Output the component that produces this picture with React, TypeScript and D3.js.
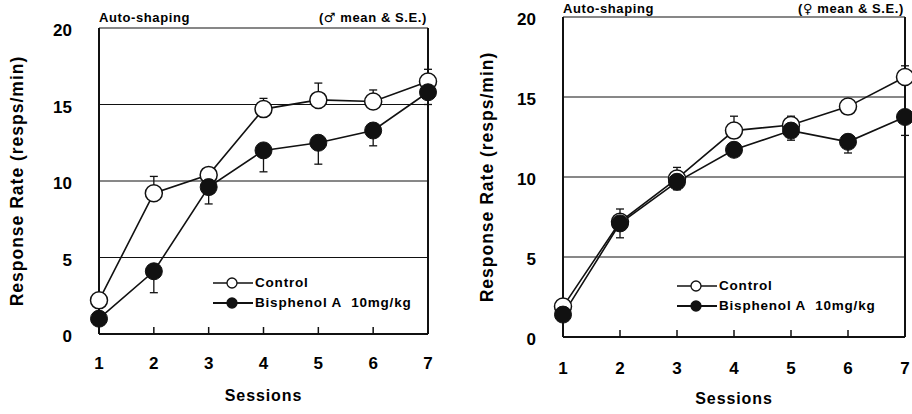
import React from "react";
import * as d3 from "d3";

// sessions 1..7
const sessions = [1, 2, 3, 4, 5, 6, 7];
const yTicks = [0, 5, 10, 15, 20];

// males (left panel)
const maleControl = [2.2, 9.2, 10.4, 14.7, 15.3, 15.2, 16.5];
const maleControlSE = [0.3, 1.1, 0.45, 0.7, 1.1, 0.75, 0.8];
const maleBPA = [1.0, 4.1, 9.6, 12.0, 12.5, 13.3, 15.8];
const maleBPASE = [0.2, 1.4, 1.1, 1.4, 1.4, 1.0, 0.8];

// females (right panel)
const femaleControl = [1.9, 7.2, 9.9, 12.9, 13.25, 14.4, 16.25];
const femaleControlSE = [0.2, 0.8, 0.7, 0.9, 0.55, 0.3, 0.7];
const femaleBPA = [1.4, 7.1, 9.7, 11.7, 12.9, 12.2, 13.75];
const femaleBPASE = [0.2, 0.9, 0.5, 0.3, 0.6, 0.7, 1.15];

const legendLabels = ["Control", "Bisphenol A\u00a0\u00a010mg/kg"];

const FONT = "'Liberation Sans', Arial, sans-serif";

type PanelProps = {
  left: number; right: number; top: number; bottom: number;
  control: number[]; controlSE: number[];
  bpa: number[]; bpaSE: number[];
  sex: string; headerY: number;
  legendX: number; legendY: number;
  yLabelX: number; tickLabelY: number; titleY: number;
};

function Panel(p: PanelProps) {
  const x = d3.scaleLinear().domain([1, 7]).range([p.left, p.right]);
  const y = d3.scaleLinear().domain([0, 20]).range([p.bottom, p.top]);

  const line = d3.line<number>()
    .x((d, i) => x(sessions[i]))
    .y(d => y(d));

  const cap = 4;

  return (
    <g fontFamily={FONT} fontWeight="bold">
      {/* gridlines */}
      {yTicks.filter(t => t > 0 && t < 20).map(t => (
        <line key={t} x1={p.left} x2={p.right} y1={y(t)} y2={y(t)} stroke="#111" strokeWidth={1} />
      ))}
      {/* frame */}
      <line x1={p.left} x2={p.right} y1={p.top} y2={p.top} stroke="#111" strokeWidth={1.2} />
      <line x1={p.right} x2={p.right} y1={p.top} y2={p.bottom} stroke="#111" strokeWidth={2} />
      <line x1={p.left} x2={p.left} y1={p.top} y2={p.bottom} stroke="#111" strokeWidth={2} />
      <line x1={p.left} x2={p.right} y1={p.bottom} y2={p.bottom} stroke="#111" strokeWidth={2} />
      {/* x ticks (inside) */}
      {sessions.map(s => (
        <line key={s} x1={x(s)} x2={x(s)} y1={p.bottom} y2={p.bottom - 7} stroke="#111" strokeWidth={1.5} />
      ))}
      {/* tick labels */}
      {sessions.map(s => (
        <text key={s} x={x(s)} y={p.tickLabelY} textAnchor="middle" dominantBaseline="middle" fontSize={17}>{s}</text>
      ))}
      {yTicks.map(t => (
        <text key={t} x={p.left - 27} y={y(t) + 4} textAnchor="end" dominantBaseline="middle" fontSize={17}>{t}</text>
      ))}
      <text x={(p.left + p.right) / 2} y={p.titleY} textAnchor="middle" dominantBaseline="middle" fontSize={16} letterSpacing={0.9}>Sessions</text>
      <text transform={`translate(${p.yLabelX},${(p.top + p.bottom) / 2}) rotate(-90)`} textAnchor="middle" dominantBaseline="middle" fontSize={17.5} letterSpacing={1}>Response Rate (resps/min)</text>
      {/* header */}
      <text x={p.left} y={p.headerY} fontSize={13} letterSpacing={0.6}>Auto-shaping</text>
      <text x={p.right - 1} y={p.headerY} textAnchor="end" fontSize={13} letterSpacing={0.6}>
        (<tspan fontFamily="'DejaVu Sans'" fontSize={13}>{p.sex}</tspan> mean &amp; S.E.)
      </text>
      {/* error bars */}
      {p.control.map((v, i) => (
        <g key={"ce" + i} stroke="#111" strokeWidth={1.3}>
          <line x1={x(sessions[i])} x2={x(sessions[i])} y1={y(v)} y2={y(v + p.controlSE[i])} />
          <line x1={x(sessions[i]) - cap} x2={x(sessions[i]) + cap} y1={y(v + p.controlSE[i])} y2={y(v + p.controlSE[i])} />
        </g>
      ))}
      {p.bpa.map((v, i) => (
        <g key={"be" + i} stroke="#111" strokeWidth={1.3}>
          <line x1={x(sessions[i])} x2={x(sessions[i])} y1={y(v)} y2={y(v - p.bpaSE[i])} />
          <line x1={x(sessions[i]) - cap} x2={x(sessions[i]) + cap} y1={y(v - p.bpaSE[i])} y2={y(v - p.bpaSE[i])} />
        </g>
      ))}
      {/* lines */}
      <path d={line(p.control) || ""} fill="none" stroke="#111" strokeWidth={1.6} />
      <path d={line(p.bpa) || ""} fill="none" stroke="#111" strokeWidth={1.6} />
      {/* markers */}
      {p.control.map((v, i) => (
        <circle key={"c" + i} cx={x(sessions[i])} cy={y(v)} r={8.5} fill="#fff" stroke="#111" strokeWidth={1.5} />
      ))}
      {p.bpa.map((v, i) => (
        <circle key={"b" + i} cx={x(sessions[i])} cy={y(v)} r={8.5} fill="#111" stroke="#111" strokeWidth={1} />
      ))}
      {/* legend */}
      {legendLabels.map((lab, i) => {
        const ly = p.legendY + i * 20;
        return (
          <g key={lab}>
            <line x1={p.legendX} x2={p.legendX + 40} y1={ly} y2={ly} stroke="#111" strokeWidth={i === 0 ? 1.3 : 2} />
            <circle cx={p.legendX + 19} cy={ly} r={5} fill={i === 0 ? "#fff" : "#111"} stroke="#111" strokeWidth={1.3} />
            <text x={p.legendX + 42} y={ly} dominantBaseline="middle" fontSize={13.5} letterSpacing={0.8}>{lab}</text>
          </g>
        );
      })}
    </g>
  );
}

export default function App() {
  return (
    <svg width={912} height={414} style={{ position: "absolute", left: 0, top: 0, background: "#fff" }}>
      <rect width={912} height={414} fill="#fff" />
      <Panel left={99} right={428} top={28} bottom={334}
        control={maleControl} controlSE={maleControlSE} bpa={maleBPA} bpaSE={maleBPASE}
        sex="♂" headerY={22} legendX={213} legendY={283}
        yLabelX={18} tickLabelY={365} titleY={397} />
      <Panel left={563} right={905} top={17} bottom={337}
        control={femaleControl} controlSE={femaleControlSE} bpa={femaleBPA} bpaSE={femaleBPASE}
        sex="♀" headerY={13} legendX={677} legendY={286}
        yLabelX={488} tickLabelY={370} titleY={400} />
    </svg>
  );
}
